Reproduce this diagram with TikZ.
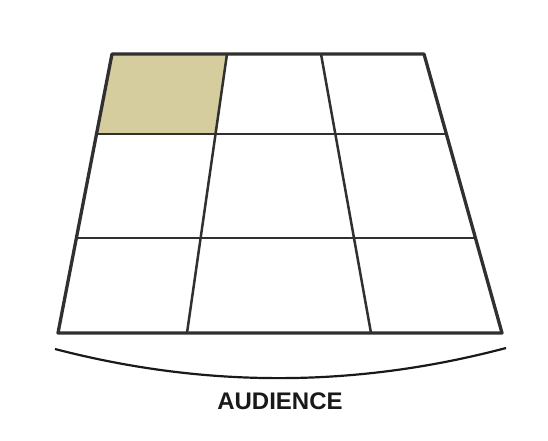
\documentclass[tikz,border=0pt]{standalone}
\usepackage{fontspec}
\setmainfont{Liberation Sans}
\definecolor{stagetan}{RGB}{214,205,158}
\definecolor{gridline}{RGB}{48,48,48}
\begin{document}
\begin{tikzpicture}[x=1pt, y=-1pt]
  % Define line widths
  \def\outerw{3.3pt}
  \def\innerw{2.5pt}

  % Canvas (pixel grid of the reference)
  \useasboundingbox (0,0) rectangle (548,441);

  % Stage corners: rows a (back) to d (front), columns 0..3
  \coordinate (a0) at (112,54);  \coordinate (a1) at (227,54);
  \coordinate (a2) at (321,54);  \coordinate (a3) at (424,54);
  \coordinate (b0) at (97,134);  \coordinate (b1) at (216,134);
  \coordinate (b2) at (335,134); \coordinate (b3) at (446,134);
  \coordinate (c0) at (77,238);  \coordinate (c1) at (201,238);
  \coordinate (c2) at (353,238); \coordinate (c3) at (474,238);
  \coordinate (d0) at (58,333);  \coordinate (d1) at (187,333);
  \coordinate (d2) at (371,333); \coordinate (d3) at (502,333);

  % Highlighted area: up stage left
  \fill[stagetan] (a0) -- (a1) -- (b1) -- (b0) -- cycle;

  % Inner grid lines
  \draw[gridline, line width=\innerw] (b0) -- (b3);
  \draw[gridline, line width=\innerw] (c0) -- (c3);
  \draw[gridline, line width=\innerw] (a1) -- (d1);
  \draw[gridline, line width=\innerw] (a2) -- (d2);

  % Stage outline
  \draw[gridline, line width=\outerw, line join=round] (a0) -- (a3) -- (d3) -- (d0) -- cycle;

  % Audience arc and label
  \coordinate (arcL) at (55,349);
  \coordinate (arcR) at (506,348);
  \draw[black!90, line width=2.2pt] (arcL) .. controls (205,388) and (355,388) .. (arcR);
  \node[font=\fontsize{24}{28}\selectfont\bfseries, text=black!90] (audience) at (280,401) {AUDIENCE};

\end{tikzpicture}
\end{document}
